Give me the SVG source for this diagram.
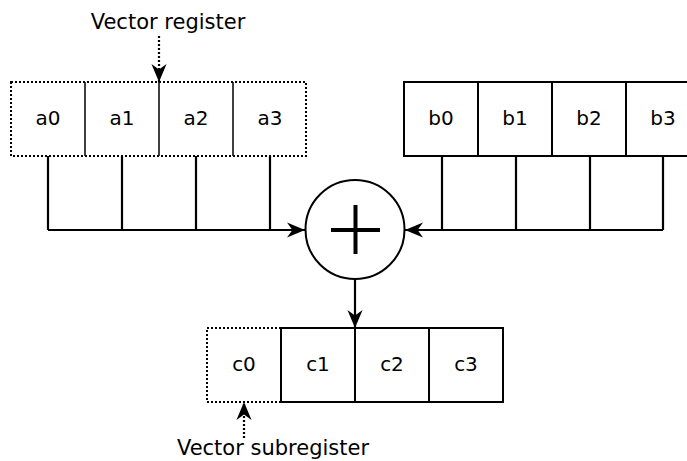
<svg xmlns="http://www.w3.org/2000/svg" width="687" height="461" viewBox="0 0 687 461">
<style>
.cell{fill:#fff;stroke:#000;stroke-width:2}
.dot{fill:none;stroke:#000;stroke-width:2;stroke-dasharray:2 2}
.div{stroke:#000;stroke-width:1.5}
.t{font-family:"DejaVu Sans",sans-serif;font-size:20px;fill:#000;text-anchor:middle}
.lbl{font-family:"DejaVu Sans",sans-serif;font-size:21px;fill:#000;text-anchor:middle}
.ln{fill:none;stroke:#000;stroke-width:2.2}
.dl{fill:none;stroke:#000;stroke-width:2.2;stroke-dasharray:2 2}
</style>
<defs>
<marker id="ahb" viewBox="0 0 10 10" refX="10" refY="5" markerWidth="18" markerHeight="18" markerUnits="userSpaceOnUse" orient="auto">
<path d="M0,0.8 L10,5 L0,9.2 L3,5 z" fill="#000"/>
</marker>
</defs>
<g id="connectors">
<path class="ln" d="M48,156 V230 M122,156 V230 M196,156 V230 M270,156 V230"/>
<path class="ln" d="M48,230 H305" marker-end="url(#ahb)"/>
<path class="ln" d="M442,156 V230 M516,156 V230 M590,156 V230 M663,156 V230"/>
<path class="ln" d="M663,230 H405" marker-end="url(#ahb)"/>
<path class="ln" d="M355,279 V328" marker-end="url(#ahb)"/>
<path class="dl" d="M159,36 V82" marker-end="url(#ahb)"/>
<path class="dl" d="M244,438 V402" marker-end="url(#ahb)"/>
</g>
<g id="label-vector-register"><text class="lbl" x="168" y="29">Vector register</text></g>
<g id="label-vector-subregister"><text class="lbl" x="273" y="455">Vector subregister</text></g>
<g id="reg-a">
<rect x="11" y="82" width="295" height="74" fill="#fff"/>
<path class="div" d="M85,82 V156 M159,82 V156 M233,82 V156"/>
<rect class="dot" x="11" y="82" width="295" height="74"/>
<text class="t" x="48" y="125">a0</text>
<text class="t" x="122" y="125">a1</text>
<text class="t" x="196" y="125">a2</text>
<text class="t" x="270" y="125">a3</text>
</g>
<g id="reg-b">
<rect class="cell" x="404" y="82" width="74" height="74"/>
<rect class="cell" x="478" y="82" width="74" height="74"/>
<rect class="cell" x="552" y="82" width="74" height="74"/>
<rect class="cell" x="626" y="82" width="74" height="74"/>
<text class="t" x="441" y="125">b0</text>
<text class="t" x="515" y="125">b1</text>
<text class="t" x="589" y="125">b2</text>
<text class="t" x="663" y="125">b3</text>
</g>
<g id="adder">
<circle cx="355" cy="229.5" r="49.5" fill="#fff" stroke="#000" stroke-width="2"/>
<path d="M331,230 H380 M355.5,205 V254" stroke="#000" stroke-width="4"/>
</g>
<g id="reg-c">
<rect class="dot" x="207" y="328" width="74" height="74"/>
<rect class="cell" x="281" y="328" width="74" height="74"/>
<rect class="cell" x="355" y="328" width="74" height="74"/>
<rect class="cell" x="429" y="328" width="74" height="74"/>
<text class="t" x="244" y="371">c0</text>
<text class="t" x="318" y="371">c1</text>
<text class="t" x="392" y="371">c2</text>
<text class="t" x="466" y="371">c3</text>
</g>
</svg>
